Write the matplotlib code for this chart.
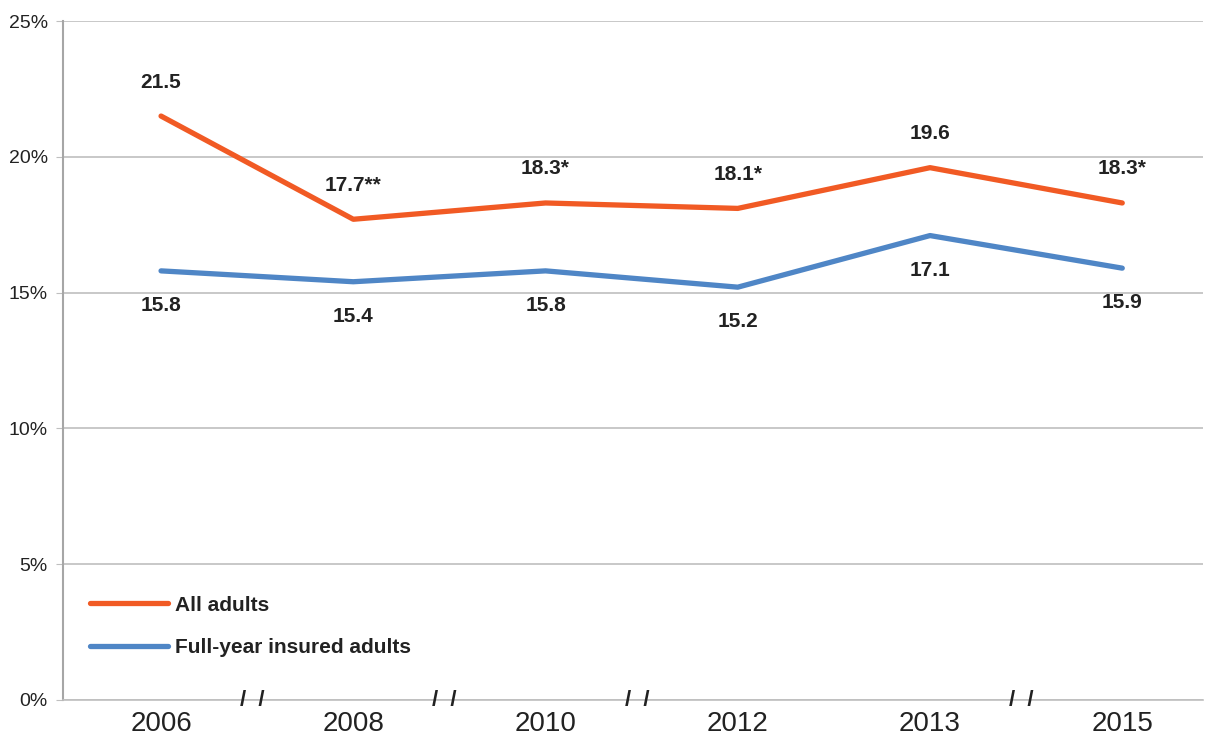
import matplotlib
matplotlib.use('Agg')
import matplotlib.pyplot as plt
from matplotlib.ticker import FuncFormatter

years = ['2006', '2008', '2010', '2012', '2013', '2015']
all_adults = [21.5, 17.7, 18.3, 18.1, 19.6, 18.3]
all_labels = ['21.5', '17.7**', '18.3*', '18.1*', '19.6', '18.3*']
insured = [15.8, 15.4, 15.8, 15.2, 17.1, 15.9]
insured_labels = ['15.8', '15.4', '15.8', '15.2', '17.1', '15.9']
breaks = [0.5, 1.5, 2.5, 4.5]  # gaps in the year sequence

plt.rcParams['font.family'] = ['Liberation Sans', 'DejaVu Sans']

orange = '#F15A24'
blue = '#4F86C6'
grid = '#BFBFBF'

fig = plt.figure(figsize=(12.06, 7.40), dpi=100)
ax = fig.add_axes([63/1206, 40/740, (1203-63)/1206, (700-21)/740])

x = list(range(len(years)))
ax.plot(x, all_adults, color=orange, lw=3.8, solid_capstyle='round', label='All adults', zorder=3)
ax.plot(x, insured, color=blue, lw=3.8, solid_capstyle='round', label='Full-year insured adults', zorder=3)

for i in x:
    ax.annotate(all_labels[i], (i, all_adults[i]), xytext=(0, 24.5), textcoords='offset points',
                ha='center', va='center', fontsize=15, fontweight='bold', color='#222222')
    ax.annotate(insured_labels[i], (i, insured[i]), xytext=(0, -25), textcoords='offset points',
                ha='center', va='center', fontsize=15, fontweight='bold', color='#222222')

for b in breaks:
    ax.text(b - 0.025, 0, '/  /', ha='center', va='center', fontsize=16, fontweight='bold',
            color='#222222', zorder=4, clip_on=False)

ax.set_xlim(-0.51, 5.42)
ax.set_ylim(0, 25)
ax.set_xticks(x)
ax.set_xticklabels(years, fontsize=20, color='#222222')
ax.set_yticks(range(0, 26, 5))
ax.yaxis.set_major_formatter(FuncFormatter(lambda v, p: '%d%%' % v))
ax.tick_params(axis='y', labelsize=14, length=5, color=grid, labelcolor='#222222', pad=6)
ax.tick_params(axis='x', length=0, pad=8)
ax.grid(axis='y', color=grid, lw=1.2)
ax.set_axisbelow(True)
for s in ['top', 'right']:
    ax.spines[s].set_visible(False)
ax.spines['left'].set_color('#A6A6A6')
ax.spines['left'].set_linewidth(1.5)
ax.spines['bottom'].set_color(grid)
ax.spines['bottom'].set_linewidth(1.2)

leg = ax.legend(loc='lower left', bbox_to_anchor=(0.007, 0.035), frameon=False,
                prop={'size': 15, 'weight': 'bold'}, handlelength=3.75, handletextpad=0.35,
                labelspacing=1.15)
for t in leg.get_texts():
    t.set_color('#222222')

fig.savefig('out.png', dpi=100)
